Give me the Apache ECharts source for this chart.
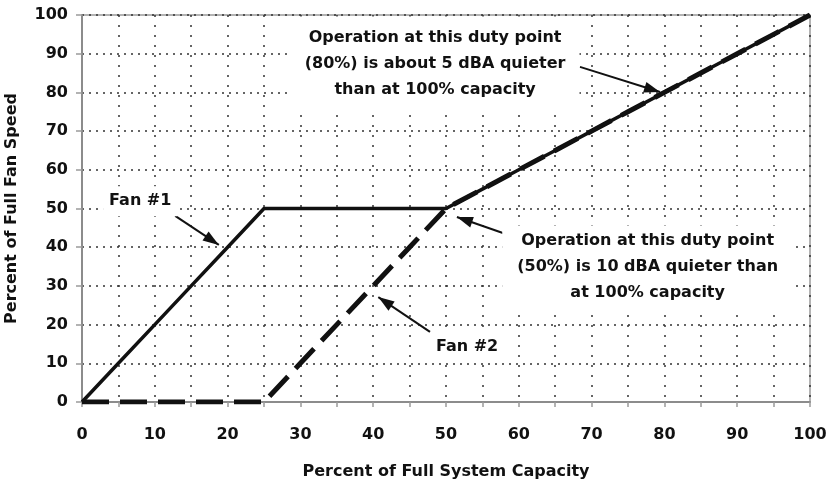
<!DOCTYPE html>
<html>
<head>
<meta charset="utf-8">
<script src="https://cdn.jsdelivr.net/npm/echarts@6/dist/echarts.min.js"></script>
<style>
  html, body { margin: 0; padding: 0; background: #fff; }
  #chart { width: 832px; height: 482px; }
</style>
</head>
<body>
<div id="chart"></div>
<script>
// Percent of full system capacity (x) and fan speed (y) for the two fans
const capacity  = [0, 5, 10, 15, 20, 25, 30, 35, 40, 45, 50, 55, 60, 65, 70, 75, 80, 85, 90, 95, 100];
const fan1Speed = [0, 10, 20, 30, 40, 50, 50, 50, 50, 50, 50, 55, 60, 65, 70, 75, 80, 85, 90, 95, 100];
const fan2Speed = [0, 0, 0, 0, 0, 0, 10, 20, 30, 40, 50, 55, 60, 65, 70, 75, 80, 85, 90, 95, 100];

// Tick labels on the capacity axis (ticks every 5, labels every 10)
const xTickLabels = [0, 10, 20, 30, 40, 50, 60, 70, 80, 90, 100];

// Callout texts
const noteFan1 = 'Fan #1';
const noteFan2 = 'Fan #2';
const note80 = 'Operation at this duty point\n(80%) is about 5 dBA quieter\nthan at 100% capacity';
const note50 = 'Operation at this duty point\n(50%) is 10 dBA quieter than\nat 100% capacity';

const FONT = '"DejaVu Sans", Verdana, sans-serif';
const INK = '#111';

const chart = echarts.init(document.getElementById('chart'), null, { renderer: 'canvas' });

function textNote(coord, text, padding) {
  return {
    coord: coord,
    symbol: 'rect',
    symbolSize: 1,
    itemStyle: { color: 'rgba(0,0,0,0)' },
    label: {
      show: true,
      position: 'inside',
      formatter: text,
      color: INK,
      fontFamily: FONT,
      fontWeight: 'bold',
      fontSize: 16,
      lineHeight: 26,
      align: 'center',
      verticalAlign: 'middle',
      backgroundColor: '#fff',
      padding: padding
    }
  };
}

// Pointer from a callout to the curve; the head's tip sits on the target point
function arrow(from, to) {
  return [{ coord: from }, { coord: to, symbolOffset: [0, 8] }];
}

const option = {
  animation: false,
  backgroundColor: '#fff',
  grid: {
    left: 82, right: 22, top: 15, bottom: 80,
    show: true,
    borderColor: '#9a9a9a',
    borderWidth: 1.5,
    containLabel: false,
    outerBoundsMode: 'none'
  },
  xAxis: {
    type: 'value',
    min: 0, max: 100, interval: 5,
    name: 'Percent of Full System Capacity',
    nameLocation: 'middle',
    nameGap: 62,
    nameTextStyle: { color: INK, fontFamily: FONT, fontWeight: 'bold', fontSize: 16 },
    axisLine: { show: true, lineStyle: { color: '#8c8c8c', width: 2 } },
    axisTick: { show: true, length: 5, lineStyle: { color: '#9a9a9a', width: 1.5 } },
    axisLabel: {
      color: INK, fontFamily: FONT, fontWeight: 'bold', fontSize: 16, margin: 25,
      formatter: function (v) { return xTickLabels.indexOf(v) >= 0 ? String(v) : ''; }
    },
    splitLine: { show: true, lineStyle: { color: '#333', width: 1.5, type: [2, 8] } }
  },
  yAxis: {
    type: 'value',
    min: 0, max: 100, interval: 10,
    name: 'Percent of Full Fan Speed',
    nameLocation: 'middle',
    nameGap: 62,
    nameTextStyle: { color: INK, fontFamily: FONT, fontWeight: 'bold', fontSize: 16 },
    axisLine: { show: true, lineStyle: { color: '#8c8c8c', width: 2 } },
    axisTick: { show: true, length: 6, lineStyle: { color: '#9a9a9a', width: 1.5 } },
    axisLabel: { color: INK, fontFamily: FONT, fontWeight: 'bold', fontSize: 16, margin: 14 },
    splitLine: { show: true, lineStyle: { color: '#333', width: 1.5, type: [2, 5] } }
  },
  series: [
    {
      name: 'Fan #2',
      type: 'line',
      data: capacity.map(function (x, i) { return [x, fan2Speed[i]]; }),
      showSymbol: false,
      symbol: 'none',
      lineStyle: { color: INK, width: 5, type: [27, 11], cap: 'butt' },
      z: 3
    },
    {
      name: 'Fan #1',
      type: 'line',
      data: capacity.map(function (x, i) { return [x, fan1Speed[i]]; }),
      showSymbol: false,
      symbol: 'none',
      lineStyle: { color: INK, width: 3.5 },
      z: 4,
      markPoint: {
        silent: true,
        data: [
          textNote([48.5, 87.5], note80, [8, 14]),
          textNote([77.7, 35.0], note50, [2, 15]),
          textNote([8.0, 51.9], noteFan1, [2, 6]),
          textNote([52.9, 14.2], noteFan2, [2, 6])
        ]
      },
      markLine: {
        silent: true,
        symbol: ['none', 'triangle'],
        symbolSize: [11, 16],
        label: { show: false },
        lineStyle: { color: INK, width: 2, type: 'solid' },
        emphasis: { disabled: true },
        data: [
          arrow([12.8, 48.1], [18.8, 40.6]),
          arrow([68.4, 86.6], [79.4, 80.1]),
          arrow([58.5, 43.2], [51.5, 47.8]),
          arrow([47.8, 18.1], [40.7, 27.1])
        ]
      }
    }
  ]
};

chart.setOption(option);
</script>
</body>
</html>
